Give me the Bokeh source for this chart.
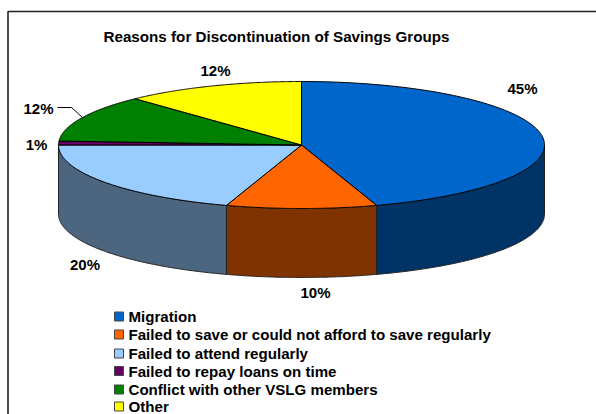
import numpy as np
from bokeh.core.properties import value
from bokeh.embed import file_html
from bokeh.models import Range1d
from bokeh.plotting import figure
from bokeh.resources import INLINE

TITLE = "Reasons for Discontinuation of Savings Groups"
categories = [
    "Migration",
    "Failed to save or could not afford to save regularly",
    "Failed to attend regularly",
    "Failed to repay loans on time",
    "Conflict with other VSLG members",
    "Other",
]
shares = [45, 10, 20, 1, 12, 12]
top_colors = ["#0066CC", "#FF6600", "#99CCFF", "#660066", "#008000", "#FFFF00"]
side_colors = ["#003366", "#7F3300", "#4D667F", "#330033", "#004000", "#7F7F00"]

# Placement of each percentage label on the page
label_x = [522, 315, 84.5, 36, 38, 215]
label_y = [88, 292, 264, 144, 108, 70]

CX, CY, RX, RY, DEPTH = 301.0, 144.5, 243.0, 63.5, 69.0
FONT = value("Liberation Sans")


def rim(a0, a1, n=160):
    """Points on the top ellipse between two clockwise angles from 12 o'clock."""
    t = np.linspace(a0, a1, n)
    return CX + RX * np.sin(t), CY - RY * np.cos(t)


p = figure(
    width=596, height=414, output_backend="svg", toolbar_location=None,
    x_range=Range1d(0, 596), y_range=Range1d(414, 0),
    min_border=0, outline_line_color=None, background_fill_color="white",
)
p.axis.visible = False
p.grid.visible = False

# Chart frame, running off the right and bottom of the page
p.line([620, 7.5, 7.5], [11, 11, 430], line_color="#222222", line_width=1.6)

edges = np.cumsum([0] + shares) / sum(shares) * 2 * np.pi
spans = list(zip(edges[:-1], edges[1:]))

# Outer wall, only where the rim faces the viewer
for (a0, a1), side in zip(spans, side_colors):
    lo, hi = max(a0, np.pi / 2), min(a1, 3 * np.pi / 2)
    if lo >= hi:
        continue
    x, y = rim(lo, hi)
    p.patch(
        np.concatenate([x, x[::-1]]), np.concatenate([y, y[::-1] + DEPTH]),
        fill_color=side, line_color="#222222", line_width=1,
    )

# Top face wedges
for (a0, a1), top in zip(spans, top_colors):
    x, y = rim(a0, a1)
    p.patch(
        np.concatenate([[CX], x]), np.concatenate([[CY], y]),
        fill_color=top, line_color="black", line_width=1,
    )

# Leader line for the green wedge's label
p.line([57, 71, 82], [107, 107, 117], line_color="black", line_width=1)

p.text(
    [276], [36], text=[TITLE], text_font=FONT, text_font_style="bold",
    text_font_size="15.2px", text_align="center", text_baseline="middle", text_color="black",
)
p.text(
    label_x, label_y, text=[f"{s}%" for s in shares], text_font=FONT,
    text_font_style="bold", text_font_size="15px", text_align="center",
    text_baseline="middle", text_color="black",
)

# Legend keys and entries
legend_y = [316, 334, 353, 370.5, 389, 406]
p.rect(
    [118.5] * 6, legend_y, width=9, height=9, fill_color=top_colors,
    line_color="#444444", line_width=1,
)
p.text(
    [128] * 6, legend_y, text=categories, text_font=FONT, text_font_style="bold",
    text_font_size="15.1px", text_align="left", text_baseline="middle", text_color="black",
)

open("out.html", "w").write(file_html(p, INLINE))
